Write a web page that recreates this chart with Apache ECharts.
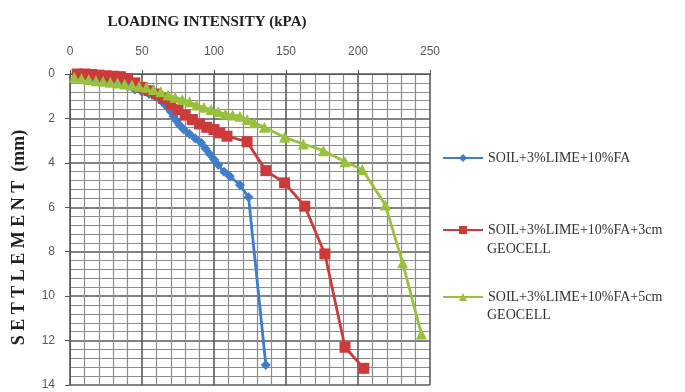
<!DOCTYPE html>
<html>
<head>
<meta charset="utf-8">
<script src="https://cdn.jsdelivr.net/npm/echarts@6/dist/echarts.min.js"></script>
<style>html,body{margin:0;padding:0;background:#fff}#c{width:685px;height:392px}</style>
</head>
<body>
<div id="c"></div>
<script>
var seriesNames = ['SOIL+3%LIME+10%FA', 'SOIL+3%LIME+10%FA+3cm GEOCELL', 'SOIL+3%LIME+10%FA+5cm GEOCELL'];
var xTicks = [0, 50, 100, 150, 200, 250];
var yTicks = [0, 2, 4, 6, 8, 10, 12, 14];

var loadA = [5,10,15,20,25,30,35,40,45,50,55,60,64,67,70,72,74,76,79,83,87,91,94,97,100,103,107,111,118,124,136];
var settA = [0.05,0.1,0.15,0.2,0.25,0.3,0.4,0.55,0.7,0.8,0.9,1.05,1.25,1.45,1.7,1.9,2.1,2.3,2.5,2.7,2.9,3.1,3.35,3.6,3.85,4.1,4.4,4.6,5.0,5.55,13.1];

var loadB = [5,10,15,20,25,30,35,40,45,50,55,60,65,70,75,80,85,90,95,100,104,109,123,136,149,163,177,191,204];
var settB = [0,0,0.02,0.05,0.08,0.1,0.12,0.2,0.4,0.6,0.75,0.9,1.1,1.35,1.6,1.85,2.05,2.25,2.4,2.5,2.65,2.8,3.05,4.35,4.9,5.95,8.1,12.3,13.25];

var loadC = [3,8,13,18,23,28,33,38,43,48,53,58,63,68,73,78,83,88,93,98,103,108,113,118,123,128,135,149,162,176,191,203,219,231,244];
var settC = [0.15,0.2,0.25,0.3,0.33,0.37,0.4,0.45,0.5,0.55,0.6,0.7,0.8,0.95,1.05,1.15,1.25,1.4,1.5,1.6,1.7,1.8,1.85,1.9,2.05,2.2,2.4,2.85,3.15,3.45,3.95,4.3,5.9,8.5,11.7];

var colors = ['#3d7dcc', '#cc3a3a', '#98c13c'];
var symbols = ['diamond', 'rect', 'triangle'];
var symSizes = [10, 11, 11];
var loads = [loadA, loadB, loadC];
var setts = [settA, settB, settC];

function pairs(xs, ys) { return xs.map(function (x, i) { return [x, ys[i]]; }); }

var chart = echarts.init(document.getElementById('c'), null, {renderer: 'canvas'});
var tickFont = {color: '#595959', fontSize: 12, fontFamily: 'Liberation Sans, Arial, sans-serif'};
var serif = 'Liberation Serif, Times New Roman, serif';
var legendTops = [146, 218, 285];
var option = {
  animation: false,
  backgroundColor: '#ffffff',
  color: colors,
  grid: {left: 70, right: 255, top: 74, bottom: 7},
  xAxis: {
    type: 'value', position: 'top', min: xTicks[0], max: xTicks[xTicks.length - 1], interval: 50,
    name: 'LOADING INTENSITY (kPA)', nameLocation: 'middle', nameGap: 44,
    nameTextStyle: {fontFamily: serif, fontWeight: 'bold', fontSize: 15, color: '#222', padding: [0, 86, 0, 0]},
    axisLine: {show: true, onZero: false, lineStyle: {color: '#555555', width: 1}},
    axisTick: {show: true, inside: false, length: 4, lineStyle: {color: '#555555'}},
    axisLabel: Object.assign({margin: 16}, tickFont),
    splitLine: {show: true, lineStyle: {color: '#5a5a5a', width: 1.6}},
    minorTick: {show: true, splitNumber: 5, length: 3, lineStyle: {color: 'rgba(0,0,0,0)'}},
    minorSplitLine: {show: true, lineStyle: {color: '#8c8c8c', width: 1.2}}
  },
  yAxis: {
    type: 'value', inverse: true, min: yTicks[0], max: yTicks[yTicks.length - 1], interval: 2,
    name: 'S E T T L E M E N T  (mm)', nameLocation: 'middle', nameGap: 42, nameRotate: 90,
    nameTextStyle: {fontFamily: serif, fontWeight: 'bold', fontSize: 18, color: '#222', padding: [0, 16, 0, 0]},
    axisLine: {show: true, onZero: false, lineStyle: {color: '#555555', width: 1}},
    axisTick: {show: true, inside: false, length: 5, lineStyle: {color: '#555555'}},
    axisLabel: Object.assign({margin: 15}, tickFont),
    splitLine: {show: true, lineStyle: {color: '#5a5a5a', width: 1.6}},
    minorTick: {show: true, splitNumber: 5, length: 3, lineStyle: {color: 'rgba(0,0,0,0)'}},
    minorSplitLine: {show: true, lineStyle: {color: '#8c8c8c', width: 1.2}}
  },
  legend: seriesNames.map(function (n, i) {
    return {
      data: [n], orient: 'vertical', left: 437, top: legendTops[i],
      itemWidth: 40, itemHeight: 10, itemGap: 0,
      formatter: function (name) { return name.replace(' GEOCELL', ''); },
      textStyle: {fontFamily: serif, fontSize: 14, color: '#333'}
    };
  }),
  graphic: [
    {type: 'text', left: 487, top: 242, style: {text: 'GEOCELL', fontFamily: serif, fontSize: 14, fill: '#333'}},
    {type: 'text', left: 487, top: 308, style: {text: 'GEOCELL', fontFamily: serif, fontSize: 14, fill: '#333'}}
  ],
  series: seriesNames.map(function (n, i) {
    return {
      name: n, type: 'line', data: pairs(loads[i], setts[i]),
      symbol: symbols[i], symbolSize: symSizes[i], showSymbol: true,
      lineStyle: {width: 2.8, color: colors[i]},
      itemStyle: {color: colors[i]}
    };
  })
};
chart.setOption(option);
</script>
</body>
</html>
